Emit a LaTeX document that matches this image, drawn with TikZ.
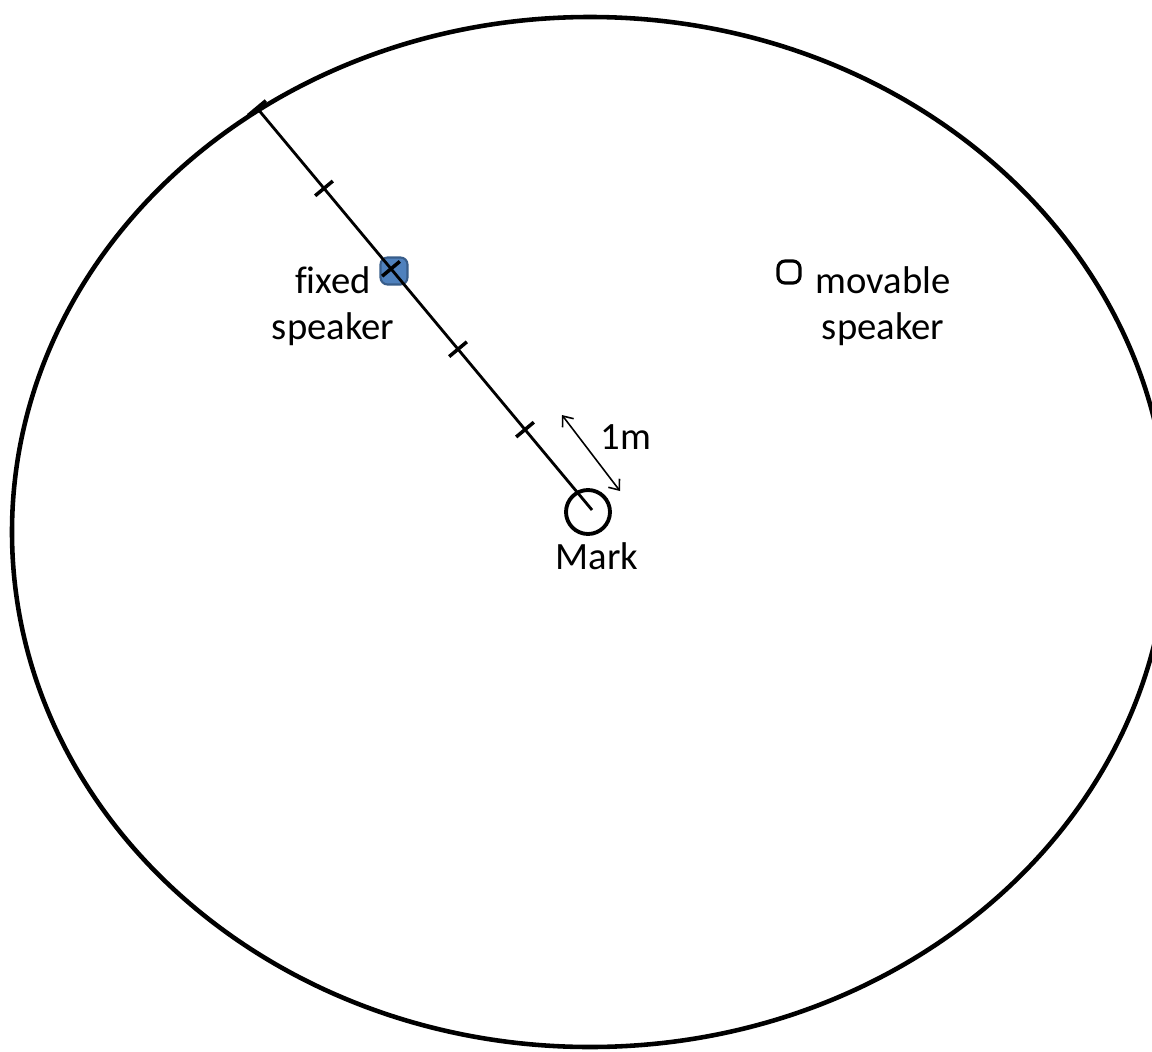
\documentclass[tikz,border=0pt]{standalone}
\usepackage{fontspec}
\setmainfont[Ligatures=NoCommon]{Carlito}
\usepackage{tikz}
\usetikzlibrary{arrows,arrows.meta,positioning,calc,shapes}

\definecolor{spkblue}{RGB}{79,129,189}
\definecolor{spkedge}{RGB}{56,93,138}

\tikzset{
  lbl/.style={font=\fontsize{22}{26}\selectfont,align=center,inner sep=1pt},
  tickmark/.style={line width=2pt},
  spkbox/.style={draw,rounded corners=4pt,minimum size=0.54cm,inner sep=0pt}
}

\begin{document}
\begin{tikzpicture}[x=0.02cm,y=-0.02cm]
\useasboundingbox (0,0) rectangle (1152,1051);

% Room
\draw[line width=2.6pt] (590,532) ellipse [x radius=578, y radius=515];

% Speakers
\node[spkbox,fill=spkblue,draw=spkedge,line width=1.2pt] (fixed) at (394,271) {};
\node[spkbox,line width=1.8pt,minimum size=0.44cm] (movable) at (789,272) {};

% Radial line with 1m marks
\coordinate (rim) at (257,108);
\coordinate (hub) at (592,510);
\draw[line width=1.6pt] (rim) -- (hub);
\foreach \t in {0,0.2,0.4,0.6,0.8,1}
    \draw[tickmark] ($($(rim)!\t!(hub)$)!0.23cm!90:(hub)$) -- ($($(rim)!\t!(hub)$)!0.23cm!-90:(hub)$);

% Listener position
\node[circle,draw,line width=2.2pt,minimum size=0.88cm] (mark) at (588,512) {};
\node[lbl,below=2.5pt of mark,xshift=9*0.02cm] (marklbl) {Mark};

% Scale
\coordinate (sa) at (562,415);
\coordinate (sb) at (620,491);
\draw[{Straight Barb[length=5pt,width=8pt]}-{Straight Barb[length=5pt,width=8pt]},line width=0.9pt] (sa) -- (sb);
\node[lbl] (scale) at (626,437) {1m};

% Labels
\node[lbl] (fixedlbl) at (333,306) {fixed\\speaker};
\node[lbl] (movlbl) at (883,306) {movable\\speaker};
\end{tikzpicture}
\end{document}
